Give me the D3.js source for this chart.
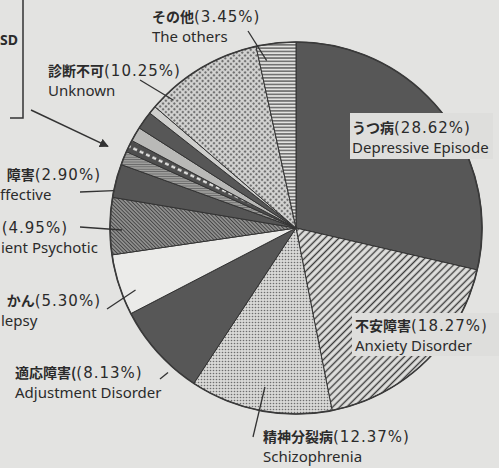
<!DOCTYPE html>
<html>
<head>
<meta charset="utf-8">
<script src="https://cdn.jsdelivr.net/npm/d3@7"></script>
<style>
  html, body { margin: 0; padding: 0; background: #e3e3e1; }
  svg { display: block; }
</style>
</head>
<body>
<svg id="chart" width="499" height="468"></svg>
<script>
// Diagnoses, clockwise from 12 o'clock
const namesJa = ["うつ病", "不安障害", "精神分裂病", "適応障害(", "てんかん", "急性一過性精神病性障害", "感情障害",
                 "PTSD", "小分類2", "小分類3", "小分類4", "小分類5", "診断不可", "その他"];
const namesEn = ["Depressive Episode", "Anxiety Disorder", "Schizophrenia", "Adjustment Disorder", "Epilepsy",
                 "Acute Transient Psychotic", "Affective", "PTSD", "Minor 2", "Minor 3", "Minor 4", "Minor 5",
                 "Unknown", "The others"];
// share of cases, %
const shares = [28.62, 18.27, 12.37, 8.13, 5.30, 4.95, 2.90, 1.20, 1.05, 1.25, 1.56, 0.70, 10.25, 3.45];
// the minor diagnoses grouped under the bracket list
const minorGroup = [7, 8, 9, 10, 11];
const bracketItem = "PTSD";

const W = 499, H = 468;
const cx = 296, cy = 228, R = 186;
const ink = "#2b2b2b";

const svg = d3.select("#chart");
const defs = svg.append("defs");

// ---- fill patterns ----
function linePattern(id, size, angle, bg, stroke, sw) {
  const p = defs.append("pattern").attr("id", id).attr("patternUnits", "userSpaceOnUse")
    .attr("width", size).attr("height", size).attr("patternTransform", `rotate(${angle})`);
  p.append("rect").attr("width", size).attr("height", size).attr("fill", bg);
  p.append("line").attr("x1", size / 2).attr("x2", size / 2).attr("y1", 0).attr("y2", size)
    .attr("stroke", stroke).attr("stroke-width", sw);
}
linePattern("hatchAnx", 5, 45, "#e0e0de", "#3c3c3c", 1.4);
linePattern("hatchAcute", 2.6, -45, "#9a9a98", "#444", 1.1);
linePattern("hLines", 3.3, 90, "#e2e2e0", "#4a4a4a", 1.2);
linePattern("minorLines", 2.4, 90, "#a2a2a0", "#666", 0.9);

const dots = defs.append("pattern").attr("id", "dotsSchizo").attr("patternUnits", "userSpaceOnUse")
  .attr("width", 3).attr("height", 3);
dots.append("rect").attr("width", 3).attr("height", 3).attr("fill", "#d8d8d6");
dots.append("circle").attr("cx", 1.5).attr("cy", 1.5).attr("r", 0.8).attr("fill", "#6e6e6e");

const diamonds = defs.append("pattern").attr("id", "dotsUnknown").attr("patternUnits", "userSpaceOnUse")
  .attr("width", 4).attr("height", 4).attr("patternTransform", "rotate(45)");
diamonds.append("rect").attr("width", 4).attr("height", 4).attr("fill", "#d6d6d4");
diamonds.append("rect").attr("x", 0.9).attr("y", 0.9).attr("width", 2.2).attr("height", 2.2).attr("fill", "#707070");

const dashes = defs.append("pattern").attr("id", "whiteDash").attr("patternUnits", "userSpaceOnUse")
  .attr("width", 7).attr("height", 7).attr("patternTransform", "rotate(25)");
dashes.append("rect").attr("width", 7).attr("height", 7).attr("fill", "#4e4e4e");
dashes.append("rect").attr("x", 1).attr("y", 2.5).attr("width", 4).attr("height", 2.2).attr("fill", "#f0f0ee");

const fills = ["#575757", "url(#hatchAnx)", "url(#dotsSchizo)", "#575757", "#ebebe9", "url(#hatchAcute)",
               "#555555", "url(#minorLines)", "url(#whiteDash)", "#b9b9b7", "#575757", "#cfcfcd",
               "url(#dotsUnknown)", "url(#hLines)"];

// ---- pie ----
const pie = d3.pie().sort(null).value(d => d).startAngle(0).endAngle(2 * Math.PI);
const arcs = pie(shares);
const arc = d3.arc().innerRadius(0).outerRadius(R);

const g = svg.append("g").attr("transform", `translate(${cx},${cy})`);
g.selectAll("path.slice").data(arcs).join("path")
  .attr("class", "slice")
  .attr("d", arc)
  .attr("fill", (d, i) => fills[i])
  .attr("stroke", "#333")
  .attr("stroke-width", 1);
g.append("circle").attr("r", R).attr("fill", "none").attr("stroke", "#3a3a3a").attr("stroke-width", 1.7);

// point inside a slice: fraction t across its angle, radius r
function slicePoint(startA, endA, t, r) {
  const a = startA + t * (endA - startA);
  return [cx + r * Math.sin(a), cy - r * Math.cos(a)];
}

// ---- labels ----
// dropJa / dropEn: leading characters lost past the left margin of the page
const labelLayout = {
  0:  { x: 352, y: 133, anchor: "start", box: [350, 113, 143, 46] },
  1:  { x: 355, y: 331, anchor: "start", box: [352, 313, 147, 43] },
  2:  { x: 263, y: 442, anchor: "start", lead: { from: [253, 437], t: 0.5, r: 162 } },
  3:  { x: 15,  y: 378, anchor: "start", lead: { from: [160, 379], t: 0.28, r: 193 } },
  4:  { x: 101, y: 306, anchor: "end", x2: 1, anchor2: "start", dropJa: 2, dropEn: 3,
        lead: { from: [107, 309], t: 0.33, r: 172 } },
  5:  { x: 68,  y: 233, anchor: "end", x2: 1, anchor2: "start", dropJa: 11, dropEn: 11,
        lead: { from: [80, 227], t: 0.43, r: 174 } },
  6:  { x: 101, y: 180, anchor: "end", x2: 0, anchor2: "start", dropJa: 2, dropEn: 1,
        lead: { from: [80, 192], t: 0.2, r: 186 } },
  12: { x: 48,  y: 76,  anchor: "start", lead: { from: [140, 80], t: 0.15, r: 177 } },
  13: { x: 152, y: 22,  anchor: "start", lead: { from: [248, 31], t: 0.2, r: 170 } }
};

const fmt = d3.format(".2f");
Object.entries(labelLayout).forEach(([k, L]) => {
  const i = +k, a = arcs[i];
  if (L.box) {
    svg.append("rect").attr("x", L.box[0]).attr("y", L.box[1]).attr("width", L.box[2]).attr("height", L.box[3])
      .attr("fill", "#dededc");
  }
  if (L.lead) {
    const p = slicePoint(a.startAngle, a.endAngle, L.lead.t, L.lead.r);
    svg.append("line").attr("x1", L.lead.from[0]).attr("y1", L.lead.from[1])
      .attr("x2", p[0]).attr("y2", p[1]).attr("stroke", "#333").attr("stroke-width", 1.3);
  }
  const t1 = svg.append("text").attr("x", L.x).attr("y", L.y).attr("text-anchor", L.anchor).attr("fill", ink);
  const ja = namesJa[i].slice(L.dropJa || 0);
  if (ja) {
    t1.append("tspan").text(ja)
      .attr("font-family", "'Noto Sans CJK JP', sans-serif").attr("font-weight", 700).attr("font-size", 14);
  }
  t1.append("tspan").text(`(${fmt(shares[i])}%)`)
    .attr("font-family", "'DejaVu Sans', sans-serif").attr("font-size", 15).attr("letter-spacing", 1);
  svg.append("text").attr("x", L.x2 !== undefined ? L.x2 : L.x).attr("y", L.y + 20)
    .attr("text-anchor", L.anchor2 || L.anchor).attr("fill", ink)
    .attr("font-family", "'Noto Sans', sans-serif").attr("font-size", 15)
    .text(namesEn[i].slice(L.dropEn || 0));
});

// ---- bracket listing the minor diagnoses, with arrow to their slices ----
defs.append("marker").attr("id", "arrowHead").attr("viewBox", "0 0 10 10")
  .attr("refX", 9).attr("refY", 5).attr("markerWidth", 9).attr("markerHeight", 9)
  .attr("markerUnits", "userSpaceOnUse").attr("orient", "auto")
  .append("path").attr("d", "M0,0 L10,5 L0,10 Z").attr("fill", "#333");

svg.append("path").attr("d", "M23,-2 L23,118 L10,118").attr("fill", "none")
  .attr("stroke", "#333").attr("stroke-width", 1.5);
svg.append("text").attr("x", 0).attr("y", 45).attr("text-anchor", "start").attr("fill", ink)
  .attr("font-family", "'Noto Sans', sans-serif").attr("font-weight", 700).attr("font-size", 14)
  .text(bracketItem.slice(2));

const gStart = arcs[minorGroup[0]].startAngle;
const gEnd = arcs[minorGroup[minorGroup.length - 1]].endAngle;
const tip = slicePoint(gStart, gEnd, 0.17, 205);
svg.append("line").attr("x1", 31).attr("y1", 110).attr("x2", tip[0]).attr("y2", tip[1])
  .attr("stroke", "#333").attr("stroke-width", 1.5).attr("marker-end", "url(#arrowHead)");
</script>
</body>
</html>
